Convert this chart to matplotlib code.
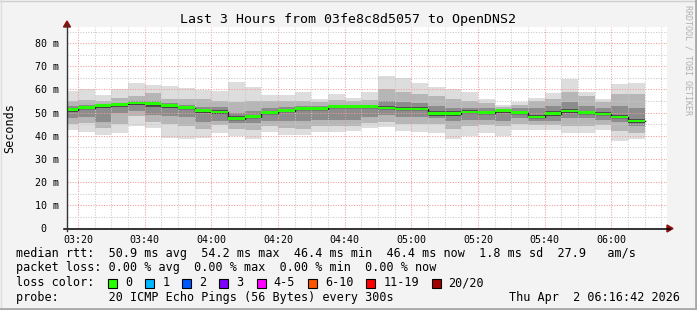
import matplotlib
matplotlib.use("Agg")
import matplotlib.pyplot as plt
import matplotlib.dates as mdates
from matplotlib.ticker import MultipleLocator, FuncFormatter
from matplotlib.patches import Rectangle, Polygon
from matplotlib.lines import Line2D
from datetime import datetime, timedelta

# ---------------- data ----------------
title = "Last 3 Hours from 03fe8c8d5057 to OpenDNS2"
t_end = datetime(2026, 4, 2, 6, 16, 42)
t_start = t_end - timedelta(hours=3)
first_bar = datetime(2026, 4, 2, 3, 15)
step_min = 5

# median rtt per 5-minute step (ms)
median = [51.2, 52.2, 53.0, 53.6, 54.2, 53.9, 53.0, 52.2, 50.9, 50.3,
          47.4, 48.3, 50.0, 50.9, 51.7, 51.7, 52.6, 52.6, 52.6, 52.0,
          51.6, 51.6, 49.6, 49.6, 50.3, 50.0, 50.9, 49.9, 48.1, 49.6,
          50.7, 49.9, 49.4, 48.1, 46.4]
# smoke bands (ms): outermost (min/max), mid, core, darkest
hi_out = [59.5, 60.1, 57.6, 60.2, 63.0, 62.0, 61.5, 60.5, 59.8, 59.5,
          63.4, 61.2, 57.6, 57.6, 59.1, 56.0, 57.9, 56.3, 59.1, 65.9,
          64.9, 63.0, 61.2, 60.1, 59.1, 55.8, 53.3, 54.5, 56.5, 58.4,
          64.6, 59.1, 55.9, 62.4, 63.0]
lo_out = [42.5, 41.8, 40.3, 41.4, 44.2, 43.5, 39.2, 38.5, 38.9, 41.1,
          40.0, 38.6, 41.8, 40.3, 40.2, 41.8, 41.8, 42.2, 43.2, 43.7,
          42.2, 41.8, 41.4, 38.6, 39.9, 41.1, 40.0, 42.5, 42.5, 42.5,
          41.1, 41.4, 42.5, 37.8, 38.5]
hi_mid = [55.0, 55.5, 55.0, 56.3, 57.1, 58.5, 56.0, 56.0, 56.0, 55.0,
          54.7, 55.0, 55.0, 55.0, 55.0, 54.5, 55.5, 55.0, 55.5, 60.0,
          59.0, 58.0, 57.0, 56.0, 55.0, 54.0, 52.5, 53.5, 55.0, 56.0,
          59.0, 57.0, 54.5, 58.0, 58.0]
lo_mid = [45.0, 45.5, 43.5, 45.0, 48.4, 46.0, 45.0, 44.0, 43.0, 44.5,
          43.0, 42.5, 44.0, 43.5, 43.0, 44.0, 44.0, 44.0, 45.5, 46.0,
          45.0, 45.0, 45.0, 43.0, 44.0, 44.5, 44.0, 45.0, 44.5, 44.5,
          44.0, 44.0, 44.5, 42.0, 41.0]
hi_core = [53.0, 53.5, 53.8, 54.3, 55.0, 55.0, 54.0, 53.5, 52.5, 52.5,
           50.0, 50.5, 52.0, 52.5, 53.0, 53.0, 53.5, 53.5, 53.5, 55.0,
           54.5, 54.0, 53.0, 52.0, 52.0, 52.0, 51.5, 52.0, 52.0, 53.0,
           54.5, 53.0, 52.0, 53.0, 52.0]
lo_core = [47.5, 48.0, 46.0, 49.9, 50.6, 49.1, 48.5, 48.0, 46.0, 46.5,
           45.5, 45.5, 46.5, 46.5, 46.5, 47.0, 47.0, 47.0, 48.0, 49.0,
           48.0, 48.0, 47.5, 46.5, 47.0, 47.0, 46.5, 47.5, 46.5, 46.5,
           47.5, 47.5, 47.0, 46.0, 44.0]
hi_dark = [51.8, 52.8, 53.5, 54.0, 54.8, 54.5, 53.8, 53.0, 51.5, 51.0,
           48.5, 49.0, 50.7, 51.5, 52.3, 52.2, 53.0, 53.0, 53.0, 53.0,
           52.5, 52.5, 50.5, 50.5, 51.0, 50.8, 51.3, 50.5, 49.0, 50.5,
           51.5, 50.8, 50.3, 49.0, 47.2]
lo_dark = [50.2, 51.5, 52.0, 52.5, 53.2, 52.5, 52.0, 51.5, 49.8, 49.5,
           47.0, 47.8, 49.4, 50.2, 51.0, 51.2, 52.0, 52.0, 52.0, 51.5,
           51.0, 51.0, 48.5, 48.5, 49.8, 49.5, 50.0, 49.3, 47.5, 48.5,
           50.0, 49.5, 49.0, 47.5, 45.5]
loss_pings = [0, 0, 0, 0, 0, 0, 0, 0, 0, 0, 0, 0, 0, 0, 0, 0, 0, 0, 0, 0,
              0, 0, 0, 0, 0, 0, 0, 0, 0, 0, 0, 0, 0, 0, 0]

stat_rtt = ["50.9 ms avg", "54.2 ms max", "46.4 ms min", "46.4 ms now",
            "1.8 ms sd", "27.9   am/s"]
stat_loss = ["0.00 % avg", "0.00 % max", "0.00 % min", "0.00 % now"]
loss_labels = ["0", "1", "2", "3", "4-5", "6-10", "11-19", "20/20"]
loss_colors = ["#26ff00", "#00b8ff", "#0059ff", "#7e00ff", "#ff00ff",
               "#ff5500", "#ff0000", "#a10000"]
loss_bins = [0, 1, 2, 3, 5, 10, 19, 20]
probe_text = "20 ICMP Echo Pings (56 Bytes) every 300s"
stamp_text = "Thu Apr  2 06:16:42 2026"

# ---------------- figure ----------------
W, H = 697, 310
MONO = "DejaVu Sans Mono"
fig = plt.figure(figsize=(W / 100, H / 100), dpi=100, facecolor="#f3f3f3")

X0, X1, YT, YB = 67, 667, 27, 228.3
ax = fig.add_axes([X0 / W, 1 - YB / H, (X1 - X0) / W, (YB - YT) / H])
ax.set_facecolor("white")

n = len(median)
starts = [mdates.date2num(first_bar + timedelta(minutes=step_min * i)) for i in range(n)]
width = step_min / 1440.0

layers = [(lo_out, hi_out, "#dddddd"), (lo_mid, hi_mid, "#b6b6b6"),
          (lo_core, hi_core, "#8c8c8c"), (lo_dark, hi_dark, "#4e4e4e")]
for lo, hi, col in layers:
    ax.bar(starts, [h - l for l, h in zip(lo, hi)], width=width, bottom=lo,
           align="edge", color=col, linewidth=0, zorder=1)

edges = starts + [starts[-1] + width]
ax.step(edges, median + [median[-1]], where="post", color="#202020", lw=1.0, zorder=4)


def loss_color(v):
    for b, c in zip(loss_bins, loss_colors):
        if v <= b:
            return c
    return loss_colors[-1]


band = 0.6
ax.bar(starts, [2 * band] * n, width=width, bottom=[m - band for m in median],
       align="edge", color=[loss_color(v) for v in loss_pings], linewidth=0, zorder=5)

ax.set_xlim(mdates.date2num(t_start), mdates.date2num(t_end))
ax.set_ylim(0, 87)

ax.xaxis.set_major_locator(mdates.MinuteLocator(byminute=[0, 20, 40]))
ax.xaxis.set_minor_locator(mdates.MinuteLocator(byminute=range(0, 60, 5)))
ax.xaxis.set_major_formatter(mdates.DateFormatter("%H:%M"))
ax.yaxis.set_major_locator(MultipleLocator(10))
ax.yaxis.set_minor_locator(MultipleLocator(5))
ax.yaxis.set_major_formatter(FuncFormatter(lambda v, p: "0  " if v == 0 else f"{v:.0f} m"))

ax.set_axisbelow(False)
ax.grid(which="minor", color="#c8c8c8", linestyle=(0, (1, 1.5)), lw=0.75, zorder=3)
ax.grid(which="major", color="#f09a9a", linestyle=(0, (1, 1.5)), lw=0.75, zorder=3)

ax.tick_params(which="both", length=0)
ax.tick_params(axis="y", pad=6, labelsize=7.2)
ax.tick_params(axis="x", pad=4.5, labelsize=7.2)
for lab in ax.get_xticklabels() + ax.get_yticklabels():
    lab.set_family(MONO)
for s in ax.spines.values():
    s.set_visible(False)

ax.set_ylabel("Seconds", family=MONO, fontsize=8.5, labelpad=13)


def fx(x):
    return x / W


def fy(y):
    return 1 - y / H


# axis lines and arrows
fig.add_artist(Line2D([fx(64), fx(670)], [fy(228.5), fy(228.5)], color="black", lw=1.1))
fig.add_artist(Line2D([fx(67), fx(67)], [fy(231), fy(24)], color="#333333", lw=1.0))
fig.add_artist(Polygon([[fx(667), fy(225)], [fx(673), fy(228.5)], [fx(667), fy(232)]],
                       closed=True, color="#8b1010"))
fig.add_artist(Polygon([[fx(63.5), fy(27)], [fx(67), fy(21)], [fx(70.5), fy(27)]],
                       closed=True, color="#8b1010"))

# frame
fig.add_artist(Line2D([0, 1], [fy(0.5), fy(0.5)], color="#cfcfcf", lw=1))
fig.add_artist(Line2D([fx(0.5), fx(0.5)], [0, 1], color="#dedede", lw=1))
fig.add_artist(Line2D([fx(696), fx(696)], [0, 1], color="#a8a8a8", lw=2))
fig.add_artist(Line2D([0, 1], [fy(309), fy(309)], color="#a8a8a8", lw=2))

# title and side text
fig.text(fx(348), fy(19), title, family=MONO, fontsize=9.5, ha="center", va="center")
fig.text(fx(688), fy(5), "RRDTOOL / TOBI OETIKER", family=MONO, fontsize=6.0,
         color="#b0b0b0", rotation=270, ha="center", va="top")

# legend
FS = 8.5
CW = 7.09
LX = 16


def row(y, s):
    fig.text(fx(LX), fy(y), s, family=MONO, fontsize=FS, ha="left", va="center")


row(254, "median rtt:  " + "  ".join(stat_rtt))
row(268, "packet loss: " + "  ".join(stat_loss))
row(283, "loss color:")
cx = LX + 13 * CW
for lab, col in zip(loss_labels, loss_colors):
    fig.add_artist(Rectangle((fx(cx), fy(287.5)), 9 / W, 9 / H, facecolor=col,
                             edgecolor="black", lw=0.8))
    tx = cx + 17
    fig.text(fx(tx), fy(283), lab, family=MONO, fontsize=FS, ha="left", va="center")
    cx = tx + len(lab) * CW + 13
row(297, "probe:       " + probe_text)
fig.text(fx(680), fy(297), stamp_text, family=MONO, fontsize=FS, ha="right", va="center")

fig.savefig("out.png", dpi=100, facecolor=fig.get_facecolor())
